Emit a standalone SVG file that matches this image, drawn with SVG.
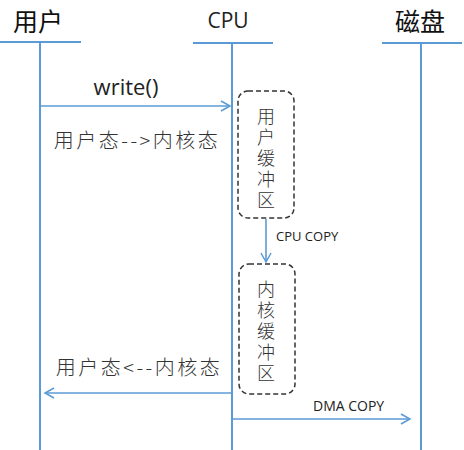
<svg xmlns="http://www.w3.org/2000/svg" width="464" height="450" viewBox="0 0 464 450">
<defs>
<marker id="arr" markerWidth="12" markerHeight="12" refX="10" refY="6" orient="auto" markerUnits="userSpaceOnUse">
<path d="M1,1 L10,6 L1,11" fill="none" stroke="#5B9BD5" stroke-width="1.5"/>
</marker>
</defs>
<style>
.ln{stroke:#5B9BD5;stroke-width:2;fill:none}
.ar{stroke:#5B9BD5;stroke-width:1.6;fill:none;marker-end:url(#arr)}
.t{font-family:"Open Sans","Liberation Sans","Noto Sans CJK SC",sans-serif;fill:#222}
.cn{font-family:"Noto Sans CJK SC",sans-serif;fill:#333;font-weight:300}
.vt{font-family:"Noto Sans CJK SC",sans-serif;fill:#333;font-weight:300;writing-mode:vertical-rl;letter-spacing:3px}
.box{fill:none;stroke:#333;stroke-width:1.5;stroke-dasharray:5,3}
</style>
<g id="user">
<text class="cn" x="38" y="31" font-size="25" text-anchor="middle" style="fill:#111;font-weight:400">用户</text>
<line class="ln" x1="0" y1="42" x2="81" y2="42"/>
<line class="ln" x1="40" y1="42" x2="40" y2="450"/>
</g>
<g id="cpu">
<text class="t" x="228" y="28" font-size="21" text-anchor="middle">CPU</text>
<line class="ln" x1="193" y1="43" x2="273" y2="43"/>
<line class="ln" x1="232" y1="43" x2="232" y2="450"/>
</g>
<g id="disk">
<text class="cn" x="420" y="31" font-size="25" text-anchor="middle" style="fill:#111;font-weight:400">磁盘</text>
<line class="ln" x1="382" y1="43" x2="462" y2="43"/>
<line class="ln" x1="421" y1="43" x2="421" y2="450"/>
</g>
<g id="user-buffer">
<rect class="box" x="238" y="91" width="56" height="127" rx="10"/>
<text class="vt" x="266" y="107" font-size="18">用户缓冲区</text>
</g>
<g id="kernel-buffer">
<rect class="box" x="239" y="264" width="56" height="130" rx="10"/>
<text class="vt" x="266" y="280" font-size="18">内核缓冲区</text>
</g>
<g id="connectors">
<line class="ar" x1="40" y1="106" x2="230" y2="106"/>
<line class="ar" x1="266" y1="219" x2="266" y2="262"/>
<line class="ar" x1="232" y1="393" x2="45" y2="393"/>
<line class="ar" x1="232" y1="419" x2="410" y2="419"/>
</g>
<g id="labels">
<text class="t" x="126" y="95" font-size="22" text-anchor="middle">write()</text>
<text class="cn" x="137" y="148" font-size="20" letter-spacing="2.5" text-anchor="middle">用户态--&gt;内核态</text>
<text class="t" x="276" y="241" font-size="13">CPU COPY</text>
<text class="cn" x="139" y="375" font-size="20" letter-spacing="2.5" text-anchor="middle">用户态&lt;--内核态</text>
<text class="t" x="313" y="411" font-size="14">DMA COPY</text>
</g>
</svg>
